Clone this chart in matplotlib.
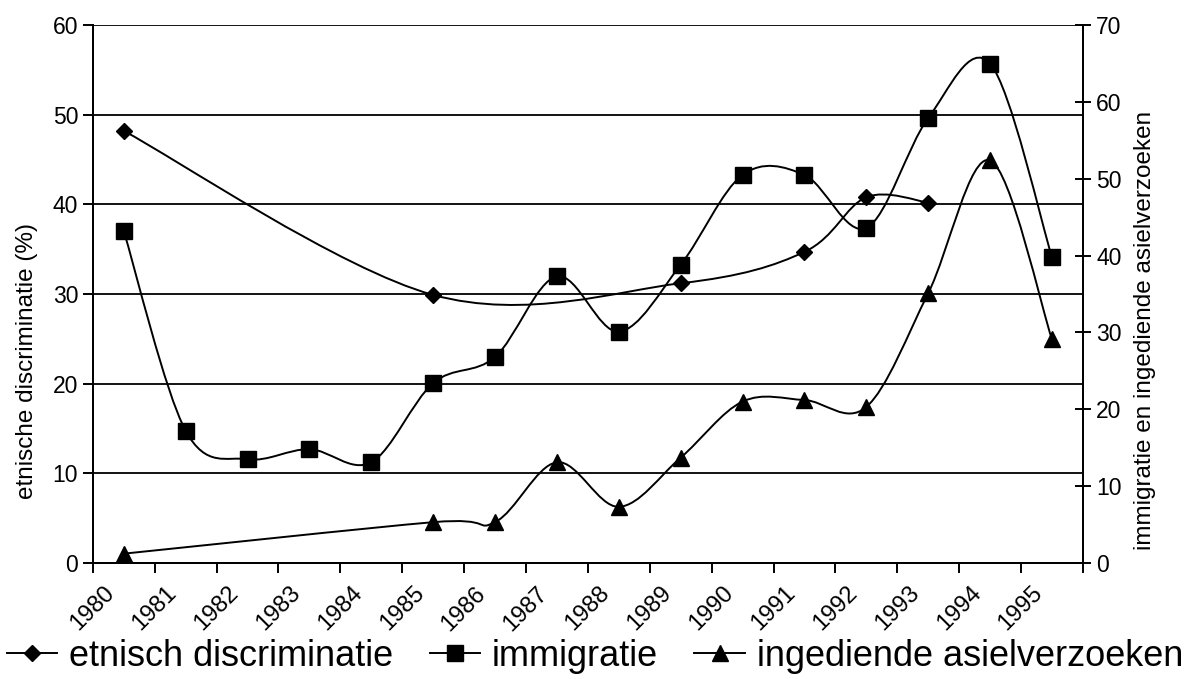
import numpy as np
import matplotlib
matplotlib.use("Agg")
import matplotlib.pyplot as plt
import matplotlib.transforms as mtransforms
from matplotlib.path import Path
from matplotlib.patches import PathPatch
from matplotlib.lines import Line2D

plt.rcParams['font.family'] = ['Liberation Sans', 'DejaVu Sans']

nan = np.nan
years = list(range(1980, 1996))
# left axis (%)
discriminatie = [48.2, nan, nan, nan, nan, 29.9, nan, nan, nan, 31.2, nan, 34.7, 40.8, 40.2, nan, nan]
# right axis
immigratie = [43.2, 17.2, 13.5, 14.8, 13.1, 23.4, 26.8, 37.3, 30.1, 38.8, 50.5, 50.5, 43.6, 57.9, 65.0, 39.8]
asielverzoeken = [1.2, nan, nan, nan, nan, 5.3, 5.3, 13.1, 7.3, 13.7, 21.0, 21.2, 20.3, 35.1, 52.4, 29.1]


def smooth_path(xs, ys):
    # excel-like smoothed line (catmull-rom as bezier), gaps get bridged
    pts = np.array([(x, y) for x, y in zip(xs, ys) if not np.isnan(y)])
    n = len(pts)
    verts = [pts[0]]
    codes = [Path.MOVETO]
    for i in range(n - 1):
        p0 = pts[max(i - 1, 0)]
        p1 = pts[i]
        p2 = pts[i + 1]
        p3 = pts[min(i + 2, n - 1)]
        verts += [p1 + (p2 - p0) / 6, p2 - (p3 - p1) / 6, p2]
        codes += [Path.CURVE4] * 3
    return Path(verts, codes)


x = np.arange(len(years)) + 0.5

fig = plt.figure(figsize=(11.9, 6.79), dpi=100)
ax = fig.add_axes([0.078, 0.171, 0.832, 0.792])
ax2 = ax.twinx()

lw = 1.4
ax.add_patch(PathPatch(smooth_path(x, discriminatie), fc='none', ec='k', lw=lw, zorder=3))
ax.plot(x, discriminatie, ls='none', marker='D', ms=8, color='k', zorder=4)
ax2.add_patch(PathPatch(smooth_path(x, immigratie), fc='none', ec='k', lw=lw, zorder=3))
ax2.plot(x, immigratie, ls='none', marker='s', ms=11, color='k', zorder=4)
ax2.add_patch(PathPatch(smooth_path(x, asielverzoeken), fc='none', ec='k', lw=lw, zorder=3))
ax2.plot(x, asielverzoeken, ls='none', marker='^', ms=11, color='k', zorder=4)

ax.set_xlim(0, len(years))
ax.set_ylim(0, 60)
ax2.set_ylim(0, 70)
ax.set_yticks(range(0, 61, 10))
ax2.set_yticks(range(0, 71, 10))
ax.set_xticks(range(len(years) + 1))
ax.set_xticklabels([str(y) for y in years] + [''], rotation=45, ha='center', va='top')
offset = mtransforms.ScaledTranslation(-9 / 100, 0, fig.dpi_scale_trans)
for lab in ax.get_xticklabels():
    lab.set_transform(lab.get_transform() + offset)

ax.yaxis.grid(True, color='k', lw=1.3)
ax.set_axisbelow(True)
for a in (ax, ax2):
    a.spines['top'].set_visible(False)
    for s in ('left', 'right', 'bottom'):
        a.spines[s].set_linewidth(1.4)
ax.tick_params(axis='both', direction='out', length=7, width=1.4, labelsize=16.5, colors='k')
ax2.tick_params(axis='y', direction='inout', length=12, width=1.4, labelsize=16.5)
ax.tick_params(axis='x', pad=7, labelsize=17)

ax.set_ylabel('etnische discriminatie (%)', fontsize=17.5, va='center')
ax2.set_ylabel('immigratie en ingediende asielverzoeken', fontsize=17.5, va='center')
ax.yaxis.set_label_coords(-0.0667, 0.375)
ax2.yaxis.set_label_coords(1.0626, 0.433)

handles = [
    Line2D([], [], color='k', lw=lw, marker='D', ms=8),
    Line2D([], [], color='k', lw=lw, marker='s', ms=11),
    Line2D([], [], color='k', lw=lw, marker='^', ms=11),
]
labels = ['etnisch discriminatie', 'immigratie', 'ingediende asielverzoeken']
fig.legend(handles, labels, loc='center', bbox_to_anchor=(0.5, 0.033), ncol=3, frameon=False,
           fontsize=26, handlelength=1.4, handletextpad=0.33, columnspacing=1.0, borderpad=0)

fig.savefig('out.png', dpi=100)
